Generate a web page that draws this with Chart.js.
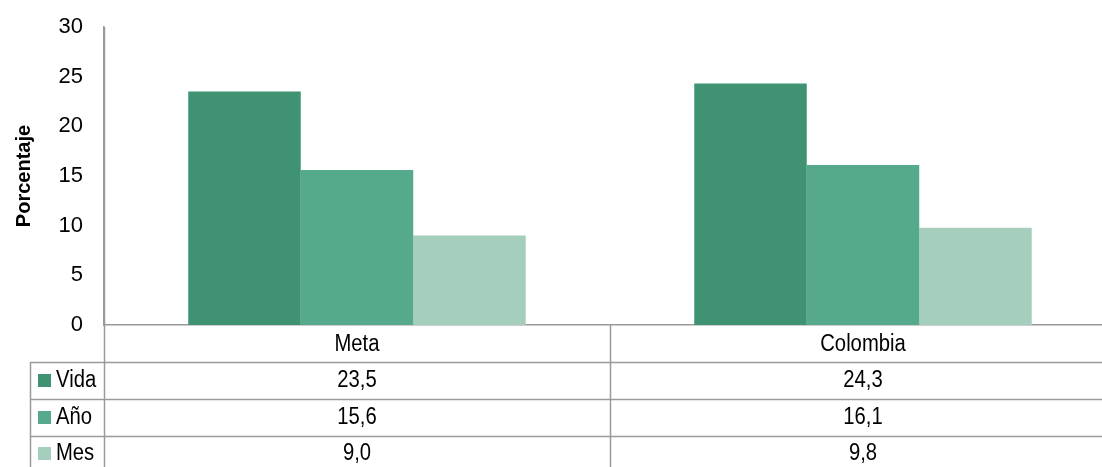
<!DOCTYPE html>
<html><head><meta charset="utf-8">
<script src="https://cdn.jsdelivr.net/npm/chart.js@4"></script>
<style>html,body{margin:0;padding:0;overflow:hidden;background:#fff}#wrap{width:1116px;height:467px;position:relative}</style>
</head><body><div id="wrap"><canvas id="c" width="1116" height="467"></canvas></div>
<script>
const categories = ['Meta', 'Colombia'];
const seriesNames = ['Vida', 'Año', 'Mes'];
const vida = [23.5, 24.3];
const anio = [15.6, 16.1];
const mes = [9.0, 9.8];
const yTicks = [0, 5, 10, 15, 20, 25, 30];
const colors = ['#3f9372', '#55aa8b', '#a6cebc'];
const seriesValues = [vida, anio, mes];

const FONT = "'Liberation Sans', Arial, sans-serif";
const fmt = v => v.toFixed(1).replace('.', ',');

function narrowText(ctx, text, x, y, align) {
  const sx = 0.88;
  ctx.save();
  ctx.translate(x, y);
  ctx.scale(sx, 1);
  ctx.textAlign = align;
  ctx.fillText(text, 0, 0);
  ctx.restore();
}

const tablePlugin = {
  id: 'table',
  afterDraw(chart) {
    const ctx = chart.ctx, xs = chart.scales.x, ca = chart.chartArea;
    const W = chart.width, H = chart.height;
    const top = ca.bottom, rowH = 37;
    ctx.save();
    ctx.strokeStyle = '#9a9a9a';
    ctx.lineWidth = 1.5;
    for (let r = 1; r <= 3; r++) {
      const y = Math.round(top + rowH * r) + 0.5;
      ctx.beginPath(); ctx.moveTo(30, y); ctx.lineTo(W, y); ctx.stroke();
    }
    const lx = Math.round(ca.left) + 0.5;
    ctx.beginPath(); ctx.moveTo(lx, ca.top); ctx.lineTo(lx, H); ctx.stroke();
    ctx.beginPath(); ctx.moveTo(30.5, top + rowH); ctx.lineTo(30.5, H); ctx.stroke();
    for (let i = 0; i < categories.length - 1; i++) {
      const dx = Math.round((xs.getPixelForValue(i) + xs.getPixelForValue(i + 1)) / 2) + 0.5;
      ctx.beginPath(); ctx.moveTo(dx, top); ctx.lineTo(dx, H); ctx.stroke();
    }
    ctx.fillStyle = '#000';
    ctx.font = '23px ' + FONT;
    ctx.textBaseline = 'middle';
    categories.forEach((c, i) => narrowText(ctx, c, xs.getPixelForValue(i), top + rowH / 2 + 1, 'center'));
    seriesValues.forEach((arr, s) => {
      const cy = top + rowH * (s + 1) + rowH / 2 + (s === 2 ? -1 : 0);
      arr.forEach((v, i) => narrowText(ctx, fmt(v), xs.getPixelForValue(i), cy, 'center'));
      ctx.fillStyle = colors[s];
      ctx.fillRect(38, Math.round(cy - 6.5), 13, 13);
      ctx.fillStyle = '#000';
      narrowText(ctx, seriesNames[s], 56, cy, 'left');
    });
    ctx.restore();
  }
};

new Chart(document.getElementById('c'), {
  type: 'bar',
  data: {
    labels: categories,
    datasets: seriesValues.map((arr, s) => ({
      label: seriesNames[s], data: arr, backgroundColor: colors[s],
      borderWidth: 0, categoryPercentage: 0.667, barPercentage: 1.0
    }))
  },
  options: {
    responsive: false, animation: false,
    layout: { padding: { top: 27, right: 0, left: 0, bottom: 0 } },
    plugins: { legend: { display: false }, tooltip: { enabled: false } },
    scales: {
      x: {
        grid: { display: false },
        border: { display: true, color: '#9a9a9a', width: 1.5 },
        ticks: { display: false },
        afterFit(s) { s.height = 142; s.paddingLeft = 0; s.paddingRight = 0; }
      },
      y: {
        min: 0, max: 30,
        afterBuildTicks(s) { s.ticks = yTicks.map(v => ({ value: v })); },
        grid: { display: false },
        border: { display: true, color: '#9a9a9a', width: 1.5 },
        ticks: { color: '#000', font: { family: FONT, size: 22 }, padding: 13 },
        title: { display: true, text: 'Porcentaje', color: '#000', font: { family: FONT, size: 20, weight: 'bold' }, padding: { top: 12, bottom: 0 } },
        afterFit(s) { s.width = 104; s.paddingTop = 0; s.paddingBottom = 0; }
      }
    }
  },
  plugins: [tablePlugin]
});
</script></body></html>
